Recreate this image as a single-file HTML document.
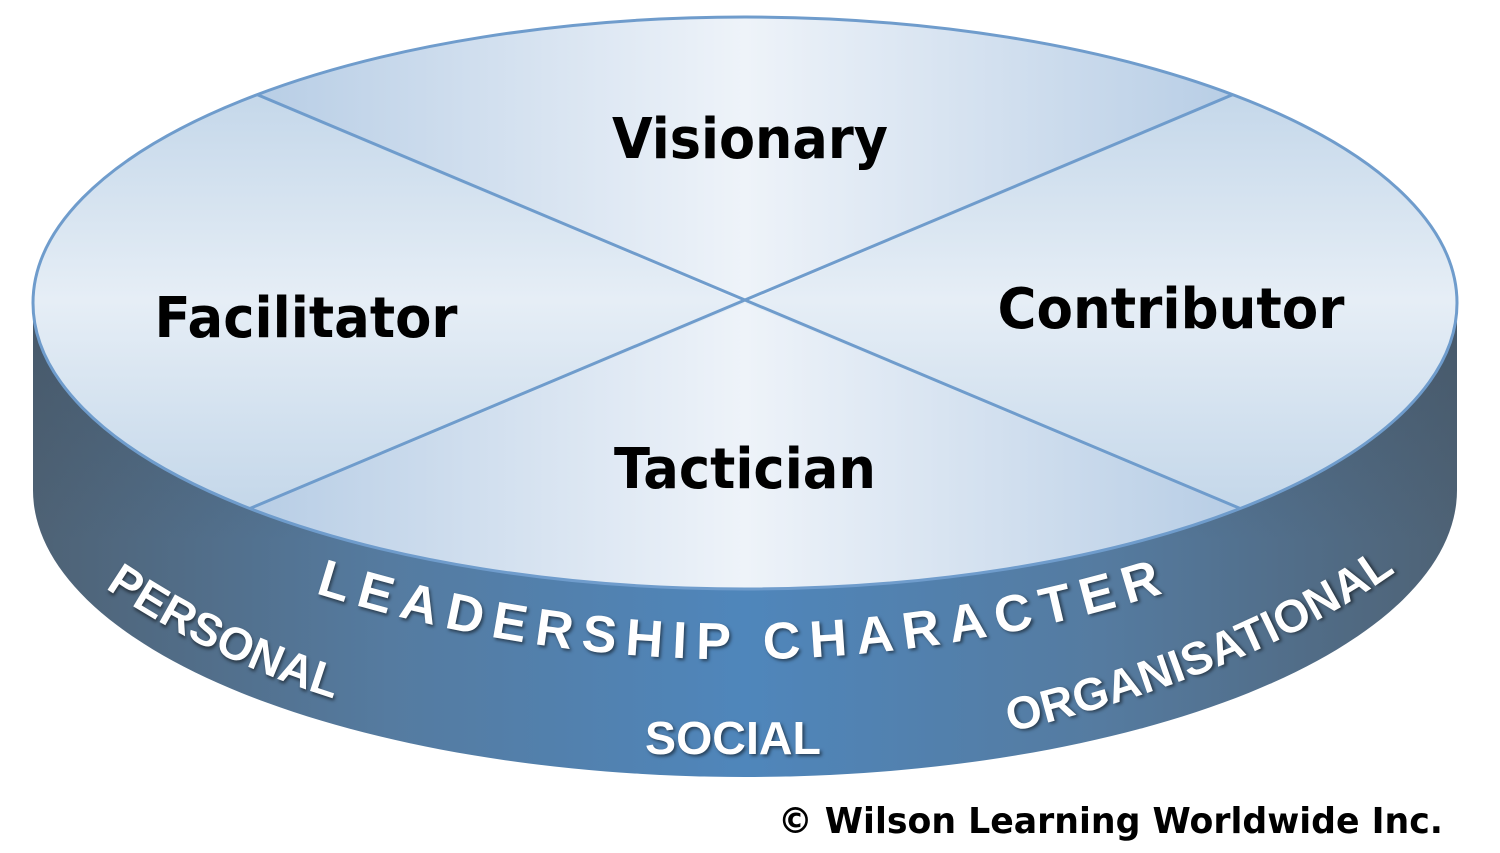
<!DOCTYPE html>
<html><head><meta charset="utf-8"><style>html,body{margin:0;padding:0;background:#fff}svg{display:block}</style></head>
<body>
<svg width="1500" height="853" viewBox="0 0 1500 853" xmlns="http://www.w3.org/2000/svg">
<defs>
<linearGradient id="side" x1="0" y1="0" x2="1" y2="0">
<stop offset="0" stop-color="#4e6275"/><stop offset="0.25" stop-color="#557ba0"/><stop offset="0.5" stop-color="#4f86bb"/><stop offset="0.75" stop-color="#557ba0"/><stop offset="1" stop-color="#4e6275"/></linearGradient>
<linearGradient id="sidev" x1="0" y1="0" x2="0" y2="1">
<stop offset="0" stop-color="#3d4d5d" stop-opacity="0.45"/><stop offset="0.5" stop-color="#3d4d5d" stop-opacity="0"/></linearGradient>
<linearGradient id="tb" x1="0" y1="0" x2="1" y2="0">
<stop offset="0" stop-color="#7aa3cf"/><stop offset="0.5" stop-color="#eef3f9"/><stop offset="1" stop-color="#7aa3cf"/></linearGradient>
<linearGradient id="lr" x1="0" y1="0" x2="0" y2="1">
<stop offset="0" stop-color="#b5cde4"/><stop offset="0.5" stop-color="#e6eef6"/><stop offset="1" stop-color="#b5cde4"/></linearGradient>
<clipPath id="top"><ellipse cx="745" cy="303" rx="712" ry="286"/></clipPath>
</defs>
<path d="M33,303 L33,490 A712,287 0 0 0 1457,490 L1457,303 Z" fill="url(#side)"/>
<path d="M33,303 L33,490 A712,287 0 0 0 1457,490 L1457,303 Z" fill="url(#sidev)"/>
<g clip-path="url(#top)">
<rect x="0" y="0" width="1500" height="600" fill="url(#lr)"/>
<polygon points="745,303 -300,-140 1790,-140" fill="url(#tb)"/>
<polygon points="745,303 -300,740 1790,740" fill="url(#tb)"/>
<line x1="-300" y1="-140" x2="1790" y2="740" stroke="#6f9ccc" stroke-width="3"/>
<line x1="1790" y1="-140" x2="-300" y2="740" stroke="#6f9ccc" stroke-width="3"/>
</g>
<ellipse cx="745" cy="303" rx="712" ry="286" fill="none" stroke="#6f9ccc" stroke-width="3"/>
<g font-family="'DejaVu Sans',sans-serif" font-weight="bold" fill="#000">
<text x="750" y="158" font-size="56" text-anchor="middle" textLength="276" lengthAdjust="spacingAndGlyphs">Visionary</text>
<text x="306" y="337" font-size="56" text-anchor="middle" textLength="303" lengthAdjust="spacingAndGlyphs">Facilitator</text>
<text x="1171" y="328" font-size="56" text-anchor="middle" textLength="347" lengthAdjust="spacingAndGlyphs">Contributor</text>
<text x="745" y="488" font-size="56" text-anchor="middle" textLength="262" lengthAdjust="spacingAndGlyphs">Tactician</text>
<text x="778" y="833" font-size="36" textLength="665" lengthAdjust="spacingAndGlyphs">© Wilson Learning Worldwide Inc.</text>
</g>
<path id="p1" d="M315,593 Q745,728 1180,588" fill="none"/>
<path id="p2" d="M105,588 Q220,665 345,702" fill="none"/>
<path id="p3" d="M1010,732 Q1260,672 1405,565" fill="none"/>
<g font-family="'Liberation Sans',sans-serif" font-weight="bold" fill="#fff" style="text-shadow:2px 2px 3px rgba(0,0,0,.5)">
<text font-size="52"><textPath href="#p1" textLength="862" lengthAdjust="spacing">LEADERSHIP CHARACTER</textPath></text>
<text font-size="46"><textPath href="#p2" textLength="255">PERSONAL</textPath></text>
<text font-size="46"><textPath href="#p3" textLength="420">ORGANISATIONAL</textPath></text>
<text x="645" y="754" font-size="46" textLength="176" lengthAdjust="spacingAndGlyphs">SOCIAL</text>
</g>
</svg>
</body></html>
